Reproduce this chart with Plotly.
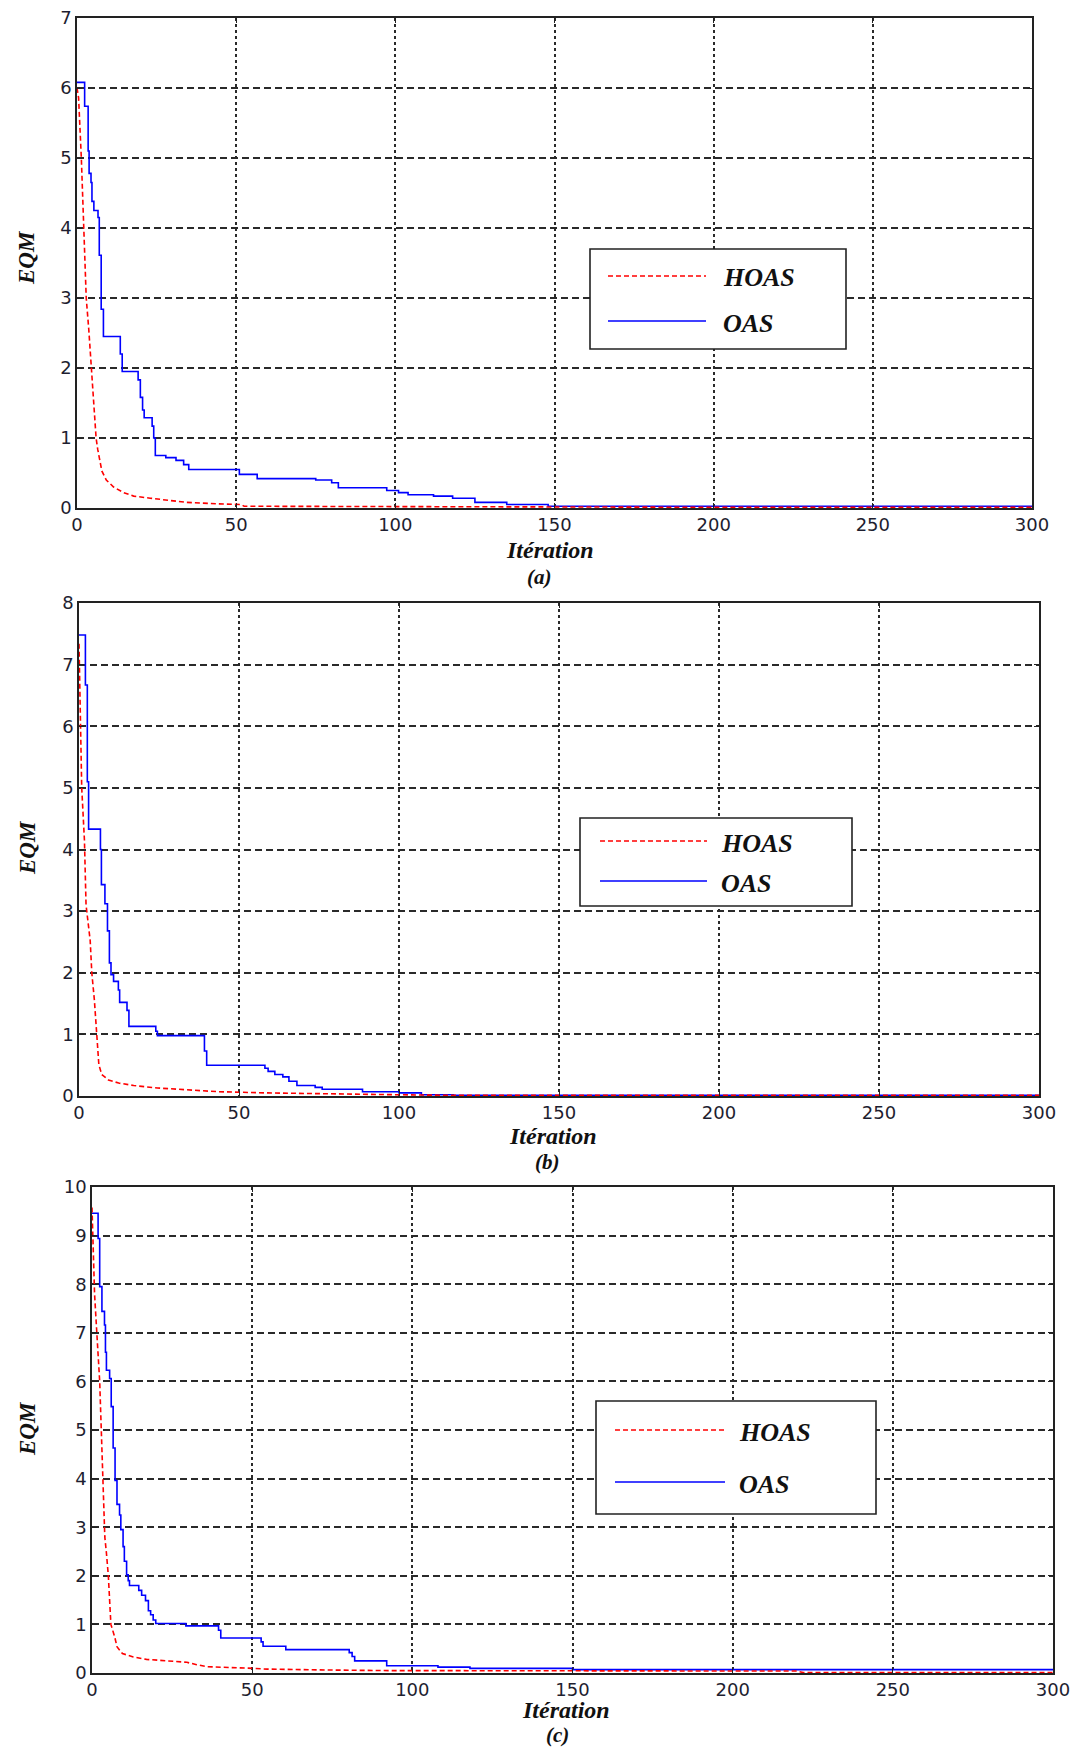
import plotly.graph_objects as go

# ---------------- data ----------------
iter_ticks = [0, 50, 100, 150, 200, 250, 300]

# panel (a)
a_oas_x = [0, 2.4, 3.5, 3.8, 4.4, 4.7, 5.3, 6.6, 7.0, 7.6, 8.3, 13.6, 14.2, 19.2, 19.9, 20.6, 21.1,
           23.6, 24.1, 24.6, 27.9, 31.1, 33.5, 35.1, 51.0, 56.6, 75.0, 80.0, 82.1, 97.3, 101, 104,
           112, 118, 125, 135, 148, 300]
a_oas_y = [6.08, 5.74, 5.10, 4.78, 4.65, 4.38, 4.25, 4.15, 3.61, 2.84, 2.45, 2.20, 1.95, 1.83, 1.58, 1.40, 1.29,
           1.17, 1.00, 0.75, 0.72, 0.68, 0.62, 0.55, 0.48, 0.42, 0.40, 0.36, 0.29, 0.25, 0.22, 0.19,
           0.17, 0.14, 0.08, 0.05, 0.025, 0.025]
a_hoas_x = [0, 0.5, 1.36, 2.1, 2.9, 3.7, 4.5, 5.1, 5.6, 6.0, 6.5, 7.8, 9.2, 11.5, 14.6, 17.8, 23, 28.2,
            34.5, 44, 51.5, 52.5, 100, 150, 200, 300]
a_hoas_y = [6.0, 5.86, 5.0, 4.0, 3.0, 2.55, 2.0, 1.51, 1.12, 1.0, 0.84, 0.53, 0.40, 0.30, 0.22, 0.17, 0.14, 0.11,
            0.08, 0.06, 0.05, 0.025, 0.02, 0.015, 0.01, 0.01]

# panel (b)
b_oas_x = [0, 2.0, 2.6, 3.0, 6.7, 7.0, 8.1, 8.9, 9.5, 10.0, 10.8, 12.3, 12.7, 15.0, 15.6, 24.0, 24.5,
           39.2, 39.9, 58.1, 59.1, 61.2, 63.7, 65.6, 68.1, 73.8, 76.0, 88.6, 100, 107, 117, 300]
b_oas_y = [7.48, 6.67, 5.10, 4.33, 4.00, 3.43, 3.12, 2.68, 2.16, 1.97, 1.86, 1.72, 1.52, 1.39, 1.13, 1.05, 0.98,
           0.73, 0.50, 0.45, 0.40, 0.35, 0.31, 0.24, 0.17, 0.14, 0.11, 0.07, 0.05, 0.02, 0.01, 0.01]
b_hoas_x = [0, 0.5, 0.85, 1.7, 2.2, 3.5, 4.0, 4.8, 5.3, 5.8, 6.2, 7.1, 9.2, 12.4, 17.1, 24.5, 32.9,
            43.4, 59, 80, 100, 117, 300]
b_hoas_y = [7.34, 6.0, 5.0, 4.15, 3.1, 2.52, 2.0, 1.56, 1.17, 0.87, 0.51, 0.35, 0.26, 0.21, 0.17, 0.13, 0.10,
            0.07, 0.05, 0.03, 0.02, 0.01, 0.01]

# panel (c)
c_oas_x = [0, 1.9, 2.4, 3.1, 3.9, 4.2, 4.5, 5.5, 6.0, 6.6, 7.2, 7.8, 8.6, 9.0, 9.7, 10.1, 10.8, 11.3, 11.7,
           14.6, 15.5, 16.7, 17.6, 18.3, 19.1, 19.9, 29.3, 39.5, 40.2, 52.8, 53.4, 60.5, 80.3, 81.2, 82.0,
           92.0, 108, 118, 150, 300]
c_oas_y = [9.46, 8.94, 7.95, 7.44, 7.16, 6.60, 6.23, 6.06, 5.48, 4.63, 3.96, 3.47, 3.25, 2.95, 2.60, 2.30, 2.02, 1.90, 1.80,
           1.70, 1.60, 1.49, 1.28, 1.20, 1.09, 1.02, 0.97, 0.88, 0.72, 0.64, 0.55, 0.48, 0.42, 0.34, 0.25,
           0.15, 0.12, 0.095, 0.07, 0.07]
c_hoas_x = [0, 0.2, 0.8, 1.5, 2.4, 2.9, 3.4, 3.7, 4.0, 4.5, 5.1, 5.5, 5.9, 7.1, 7.8, 9.5, 12.9, 17, 23.3,
            29.6, 32.7, 35.9, 48.4, 54.7, 75.6, 91, 150, 220, 222, 300]
c_hoas_y = [9.58, 9.0, 7.8, 7.0, 6.0, 5.0, 4.0, 3.0, 2.8, 2.47, 2.0, 1.5, 1.0, 0.74, 0.54, 0.40, 0.33, 0.28, 0.25,
            0.22, 0.17, 0.13, 0.10, 0.08, 0.06, 0.05, 0.045, 0.04, 0.01, 0.01]

y_max = [7, 8, 10]
panel_tags = ["(a)", "(b)", "(c)"]
series_names = ["HOAS", "OAS"]
x_title = "Itération"
y_title = "EQM"

# ---------------- layout geometry (page pixels) ----------------
PAGE_W, PAGE_H = 1078, 1749
OFF = 8  # default body margin of the html page
W, H = PAGE_W - OFF, PAGE_H - OFF
boxes = [(77, 1032, 18, 508), (79, 1039, 603, 1096), (92, 1053, 1187, 1673)]
legends = [
    dict(box=(590, 846, 249, 349), lx=(608, 706), ly=(276, 321), tx=721, ty=(277, 323)),
    dict(box=(580, 852, 818, 906), lx=(600, 707), ly=(841, 881), tx=719, ty=(843, 883)),
    dict(box=(596, 876, 1401, 1514), lx=(615, 725), ly=(1430, 1482), tx=737, ty=(1432, 1484)),
]
title_pos = [((550, 550), (539, 577)), ((553, 1136), (548, 1162)), ((566, 1710), (557, 1735))]
eqm_pos = [(27, 258), (27, 848), (27, 1429)]

def fx(x):
    return (x - OFF) / W

def fy(y):
    return 1 - (y - OFF) / H

RED = "#ff0000"
BLUE = "#0000ff"
AX = "#222222"
GRID = "#2a2a2a"
TICK_FONT = dict(family="DejaVu Sans", size=18, color="#1e1e30")
SERIF = "Liberation Serif"

fig = go.Figure()
data = [
    (a_hoas_x, a_hoas_y, a_oas_x, a_oas_y),
    (b_hoas_x, b_hoas_y, b_oas_x, b_oas_y),
    (c_hoas_x, c_hoas_y, c_oas_x, c_oas_y),
]

shapes = []
annotations = []
for i, (hx, hy, ox, oy) in enumerate(data):
    k = "" if i == 0 else str(i + 1)
    xa, ya = "x" + k, "y" + k
    fig.add_trace(go.Scatter(x=ox, y=oy, mode="lines", line=dict(color=BLUE, width=1.6, shape="hv"),
                             name=series_names[1], showlegend=False, xaxis=xa, yaxis=ya))
    fig.add_trace(go.Scatter(x=hx, y=hy, mode="lines", line=dict(color=RED, width=1.6, dash="5px,3px"),
                             name=series_names[0], showlegend=False, xaxis=xa, yaxis=ya))
    x0, x1, y0, y1 = boxes[i]
    common = dict(showline=True, linecolor=AX, linewidth=1.6, mirror="ticks", ticks="inside",
                  ticklen=5, tickcolor=AX, showgrid=True, gridcolor=GRID,
                  zeroline=False, tickfont=TICK_FONT, automargin=False, ticklabeloverflow="allow")
    fig.layout["xaxis" + k] = dict(domain=[fx(x0), fx(x1)], range=[0, 300], tickvals=iter_ticks,
                                   anchor=ya, griddash="3px,3px", gridwidth=1.8, **common)
    fig.layout["yaxis" + k] = dict(domain=[fy(y1), fy(y0)], range=[0, y_max[i]], dtick=1,
                                   anchor=xa, griddash="7px,4px", gridwidth=1.6, **common)

    # legend box drawn by hand
    lg = legends[i]
    bx0, bx1, by0, by1 = lg["box"]
    shapes.append(dict(type="rect", xref="paper", yref="paper", x0=fx(bx0), x1=fx(bx1),
                       y0=fy(by1), y1=fy(by0), line=dict(color=AX, width=1.6), fillcolor="white",
                       layer="above"))
    shapes.append(dict(type="line", xref="paper", yref="paper", x0=fx(lg["lx"][0]), x1=fx(lg["lx"][1]),
                       y0=fy(lg["ly"][0]), y1=fy(lg["ly"][0]), line=dict(color=RED, width=1.5, dash="5px,3px"),
                       layer="above"))
    shapes.append(dict(type="line", xref="paper", yref="paper", x0=fx(lg["lx"][0]), x1=fx(lg["lx"][1]),
                       y0=fy(lg["ly"][1]), y1=fy(lg["ly"][1]), line=dict(color=BLUE, width=1.5),
                       layer="above"))
    for j, name in enumerate(series_names):
        annotations.append(dict(xref="paper", yref="paper", x=fx(lg["tx"]), y=fy(lg["ty"][j]),
                                text="<b><i>%s</i></b>" % name, showarrow=False, xanchor="left",
                                yanchor="middle", font=dict(family=SERIF, size=26, color="#111111")))
    # axis titles
    (tx, ty), (px, py) = title_pos[i]
    annotations.append(dict(xref="paper", yref="paper", x=fx(tx), y=fy(ty), text="<b><i>%s</i></b>" % x_title,
                            showarrow=False, xanchor="center", yanchor="middle",
                            font=dict(family=SERIF, size=24, color="#111111")))
    annotations.append(dict(xref="paper", yref="paper", x=fx(px), y=fy(py), text="<b><i>%s</i></b>" % panel_tags[i],
                            showarrow=False, xanchor="center", yanchor="middle",
                            font=dict(family=SERIF, size=21, color="#111111")))
    ex, ey = eqm_pos[i]
    annotations.append(dict(xref="paper", yref="paper", x=fx(ex), y=fy(ey), text="<b><i>%s</i></b>" % y_title,
                            showarrow=False, xanchor="center", yanchor="middle", textangle=-90,
                            font=dict(family=SERIF, size=23, color="#111111")))

fig.update_layout(template="none", width=W, height=H, margin=dict(l=0, r=0, t=0, b=0),
                  paper_bgcolor="white", plot_bgcolor="white", showlegend=False,
                  shapes=shapes, annotations=annotations)
fig.write_html("out.html")
